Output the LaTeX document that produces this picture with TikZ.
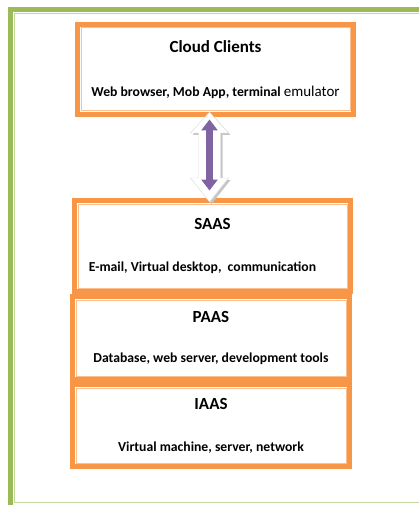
\documentclass[tikz,border=0pt]{standalone}
\usepackage{fontspec}
\setmainfont{Carlito}
\usetikzlibrary{arrows.meta, positioning}

\definecolor{frameGreen}{HTML}{9BBB59}
\definecolor{frameLight}{HTML}{C3D69B}
\definecolor{layerOrange}{HTML}{F79646}
\definecolor{layerLight}{HTML}{FAC090}
\definecolor{arrowPurple}{HTML}{8064A2}

\newcommand{\layertitle}[1]{{\fontsize{17}{20}\selectfont #1}}

\begin{document}
\begin{tikzpicture}[x=1pt, y=-1pt,
  layer/.style={rectangle, draw=layerOrange, line width=5pt, fill=white, inner sep=0pt, align=center,
    font=\bfseries\fontsize{13.7}{16}\selectfont,
    path picture={\draw[layerLight, line width=1pt]
      ([shift={(3.5pt,-3.5pt)}]path picture bounding box.north west) rectangle
      ([shift={(-3.5pt,3.5pt)}]path picture bounding box.south east);}},
  updown/.style={arrowPurple, line width=7pt,
    {Triangle[width=16pt, length=11pt]}-{Triangle[width=16pt, length=11pt]}},
]
\useasboundingbox (0,0) rectangle (419,505);
\clip (0,0) rectangle (419,505);

% === Page frame ===
\draw[frameGreen, line width=5pt] (10.5,9.5) rectangle (445,520);
\draw[frameLight, line width=1.5pt] (14.5,13.5) rectangle (440,502.5);

% === Clients on top ===
\node[layer, minimum width=276pt, minimum height=90pt] (cloud) at (215.5,69.5)
  {\layertitle{Cloud Clients}\\[28pt]Web browser, Mob App, terminal {\mdseries\fontsize{15}{18}\selectfont emulator}};

% === Service stack ===
\node[layer, minimum width=276pt, minimum height=91pt] (saas) at (212.5,246)
  {\layertitle{SAAS}\\[26pt]E-mail, Virtual desktop,~ communication\hspace*{20pt}};
\node[layer, minimum width=277pt, minimum height=83pt] (paas) at (211,338)
  {\layertitle{PAAS}\\[24pt]Database, web server, development tools};
\node[layer, minimum width=277pt, minimum height=82pt] (iaas) at (211,425.5)
  {\layertitle{IAAS}\\[26pt]Virtual machine, server, network};

% === Clients <-> SAAS ===
\coordinate (ax) at (209.5,157);
\begin{scope}[shift={(ax)}]
  \filldraw[fill=white, draw=gray!30, preaction={fill=gray!45, transform canvas={shift={(2pt,-2pt)}}}]
    (0,-45) -- (19,-24) -- (11,-24) -- (11,21) -- (19,21) -- (0,45)
    -- (-19,21) -- (-11,21) -- (-11,-24) -- (-19,-24) -- cycle;
\end{scope}
\draw[updown, shorten <=2.5pt, shorten >=7.5pt] (cloud.south -| ax) -- (saas.north -| ax);
\end{tikzpicture}
\end{document}
